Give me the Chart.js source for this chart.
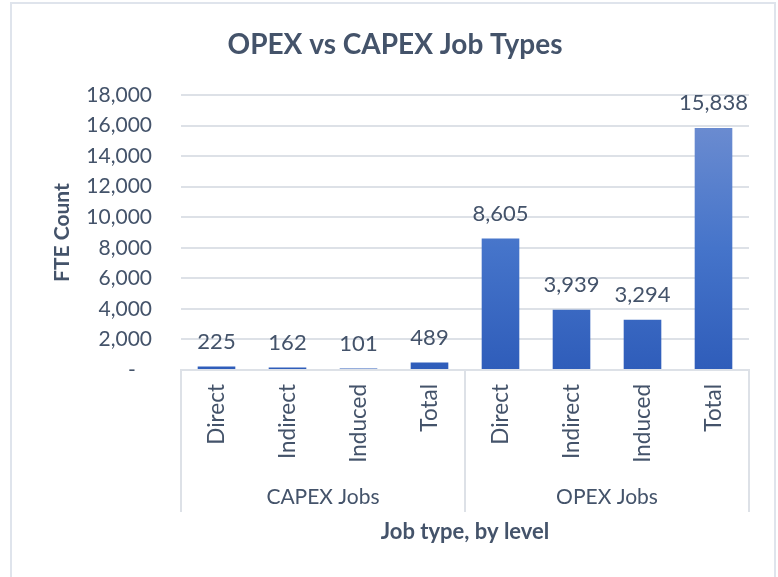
<!DOCTYPE html>
<html lang="en">
<head>
  <meta charset="UTF-8">
  <title>OPEX vs CAPEX Job Types</title>
  <script src="https://cdn.jsdelivr.net/npm/chart.js"></script>
  <style>
    body {
      margin: 0;
      background: #fff;
      overflow: hidden;
    }
    .frame {
      position: absolute;
      left: 10px;
      top: 2px;
      width: 762px;
      height: 600px;
      border: 2px solid #dfe4ec;
      border-bottom: none;
    }
    .wrap {
      position: absolute;
      left: 0;
      top: 0;
      width: 778px;
      height: 577px;
    }
  </style>
</head>
<body>
  <div class="frame"></div>
  <div class="wrap"><canvas id="chart" width="778" height="577"></canvas></div>

<script>
  // data
  const jobLevels = ['Direct', 'Indirect', 'Induced', 'Total', 'Direct', 'Indirect', 'Induced', 'Total'];
  const groups = ['CAPEX Jobs', 'OPEX Jobs'];
  const groupSizes = [4, 4];
  const fteCount = [225, 162, 101, 489, 8605, 3939, 3294, 15838];
  const yTicks = [0, 2000, 4000, 6000, 8000, 10000, 12000, 14000, 16000, 18000];

  const textColor = '#44536a';
  const gridColor = '#dde1e7';
  const font = 'Lato, "Open Sans", sans-serif';

  // gradient per bar, lighter at the top, like the office fill
  const barGradient = {
    id: 'barGradient',
    beforeDatasetsDraw(chart) {
      const ctx = chart.ctx;
      chart.getDatasetMeta(0).data.forEach(bar => {
        const g = ctx.createLinearGradient(0, Math.min(bar.y, chart.chartArea.bottom - 8), 0, bar.base);
        g.addColorStop(0, '#6a8bd0');
        g.addColorStop(0.5, '#4574ca');
        g.addColorStop(1, '#2f5dba');
        bar.options.backgroundColor = g;
      });
    }
  };

  // title, axis titles, value labels, group labels and separators
  const extras = {
    id: 'extras',
    afterDatasetsDraw(chart) {
      const ctx = chart.ctx;
      const area = chart.chartArea;
      const xs = chart.scales.x;
      ctx.save();

      // value labels
      ctx.fillStyle = textColor;
      ctx.font = '22px ' + font;
      ctx.textAlign = 'center';
      ctx.textBaseline = 'middle';
      chart.getDatasetMeta(0).data.forEach((bar, i) => {
        ctx.fillText(fteCount[i].toLocaleString('en-US'), bar.x, bar.y - 25);
      });

      // group separators and labels
      const sepBottom = 512;
      ctx.strokeStyle = gridColor;
      ctx.lineWidth = 2;
      let start = 0;
      const edges = [area.left];
      groupSizes.forEach(n => {
        start += n;
        const x = start < jobLevels.length
          ? (xs.getPixelForTick(start - 1) + xs.getPixelForTick(start)) / 2
          : area.right;
        edges.push(x);
      });
      edges.forEach(x => {
        ctx.beginPath();
        ctx.moveTo(x, area.bottom);
        ctx.lineTo(x, sepBottom);
        ctx.stroke();
      });
      ctx.font = '21px ' + font;
      groups.forEach((g, i) => {
        ctx.fillText(g, (edges[i] + edges[i + 1]) / 2, 497);
      });

      // x axis title
      ctx.font = 'bold 22px ' + font;
      ctx.fillText('Job type, by level', (area.left + area.right) / 2, 532);

      // y axis title
      ctx.font = 'bold 21px ' + font;
      ctx.translate(62, (area.top + area.bottom) / 2);
      ctx.rotate(-Math.PI / 2);
      ctx.fillText('FTE Count', 0, 0);
      ctx.restore();

      // chart title
      ctx.save();
      ctx.fillStyle = textColor;
      ctx.font = 'bold 28px ' + font;
      ctx.textAlign = 'center';
      ctx.textBaseline = 'middle';
      ctx.fillText('OPEX vs CAPEX Job Types', 395, 45);
      ctx.restore();
    }
  };

  new Chart(document.getElementById('chart'), {
    type: 'bar',
    data: {
      labels: jobLevels,
      datasets: [{
        label: 'FTE Count',
        data: fteCount,
        backgroundColor: '#4574ca',
        barPercentage: 0.53,
        categoryPercentage: 1
      }]
    },
    options: {
      responsive: false,
      animation: false,
      layout: { padding: { left: 0, right: 29, top: 95, bottom: 0 } },
      plugins: {
        legend: { display: false },
        title: { display: false },
        tooltip: { enabled: false }
      },
      scales: {
        x: {
          afterFit(scale) { scale.height = 207; },
          grid: { display: false, drawTicks: false },
          border: { display: true, color: gridColor, width: 2 },
          ticks: {
            color: textColor,
            font: { family: font, size: 22.5 },
            minRotation: 90,
            maxRotation: 90,
            padding: 14,
            autoSkip: false
          }
        },
        y: {
          min: 0,
          max: 18000,
          afterFit(scale) { scale.width = 181; },
          afterBuildTicks(scale) { scale.ticks = yTicks.map(v => ({ value: v })); },
          grid: { color: gridColor, lineWidth: 2, drawTicks: false },
          border: { display: false },
          ticks: {
            color: textColor,
            font: { family: font, size: 21 },
            padding: 29,
            callback: v => v === 0 ? '-   ' : v.toLocaleString('en-US')
          }
        }
      }
    },
    plugins: [barGradient, extras]
  });
</script>
</body>
</html>
